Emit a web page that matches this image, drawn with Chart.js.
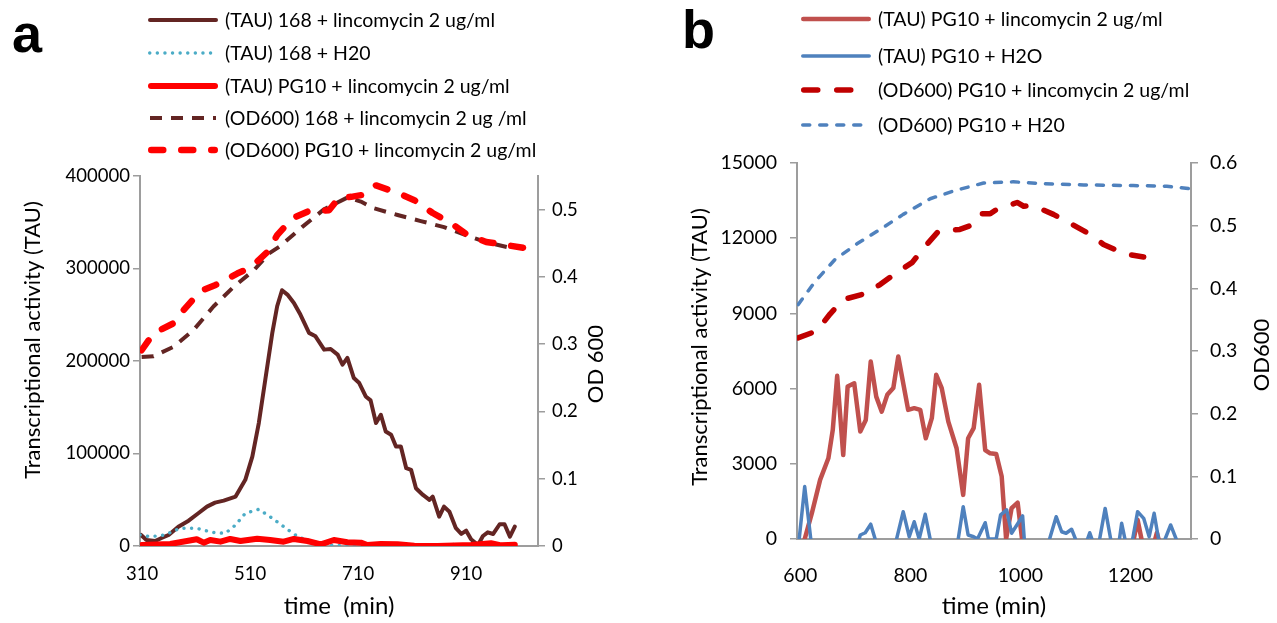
<!DOCTYPE html>
<html>
<head>
<meta charset="utf-8">
<script src="https://cdn.jsdelivr.net/npm/chart.js@4.4.1/dist/chart.umd.min.js"></script>
<style>
  html,body{margin:0;padding:0;background:#fff;}
  #wrap{position:relative;width:1277px;height:623px;overflow:hidden;font-family:Lato,"Open Sans",sans-serif;color:#000;}
  .panel{position:absolute;top:0;height:623px;}
  .letter{position:absolute;font-family:"Liberation Sans",Arial,sans-serif;font-weight:bold;font-size:54px;line-height:54px;}
  .leg{position:absolute;font-size:19.5px;line-height:20px;white-space:nowrap;}
  .leg svg{position:absolute;left:0;top:0;}
  .leg span{position:absolute;top:0;}
</style>
</head>
<body>
<div id="wrap">
  <div class="panel" style="left:0;width:640px;"><canvas id="ca"></canvas></div>
  <div class="panel" style="left:640px;width:637px;"><canvas id="cb"></canvas></div>
  <div class="letter" style="left:12px;top:6px;">a</div>
  <div class="letter" style="left:682px;top:2px;">b</div>
  <div id="legA"></div>
  <div id="legB"></div>
</div>
<script>
// ---------- Panel a data ----------
const aXTicks = [310, 510, 710, 910];

const a168LincTime = [308,318,334,346,359,377,396,414,430,445,461,483,501,514,526,538,551,560,569,579,591,603,619,631,647,659,672,681,690,702,712,724,733,743,752,761,771,780,789,799,808,817,830,842,848,860,869,879,891,901,910,919,932,941,950,960,972,981,991,1000];
const a168LincTau  = [11900,6500,5400,8700,11900,20900,27400,35400,42600,46900,49100,53400,71500,96700,132900,179800,230400,259200,276500,271800,262800,250200,230400,226700,212300,213000,206900,196000,203300,181600,176200,161700,157400,132900,141900,123800,120200,107500,107500,84100,82300,62500,55200,49800,53400,31700,42600,37100,19200,13000,16600,7300,1100,10800,14800,13000,23500,23500,10100,20900];

const a168H2OTime = [306,325,352,380,411,439,464,483,501,526,551,576,600,625,656,690,730,770,814,850,888,910];
const a168H2OTau  = [11900,10100,11900,19200,19200,14800,13700,22700,35400,39700,30000,19200,9400,4700,1100,0,0,0,0,300,1800,0];

const aPG10LincTime = [309,362,411,424,436,455,473,492,523,547,572,591,616,641,665,690,715,727,752,783,814,857,919,956,975,1000];
const aPG10LincTau  = [1000,2200,7300,3600,6500,4700,7600,5400,7900,6500,4700,7600,5400,1800,6500,4000,3600,1100,2200,1800,300,0,1000,2900,700,1400];

const a168LincODTime = [309,331,368,405,442,479,517,545,566,606,646,690,715,739,783,826,869,913,950,987];
const a168LincOD     = [0.281,0.282,0.296,0.321,0.356,0.385,0.410,0.435,0.446,0.474,0.500,0.518,0.512,0.502,0.492,0.483,0.474,0.461,0.451,0.444];

const aPG10LincODTime = [309,331,368,387,418,446,486,511,542,560,588,616,656,675,697,719,743,783,814,848,882,913,947,987,1025];
const aPG10LincOD     = [0.291,0.316,0.331,0.351,0.379,0.388,0.405,0.414,0.437,0.462,0.487,0.497,0.499,0.518,0.519,0.522,0.536,0.525,0.514,0.495,0.480,0.462,0.452,0.447,0.442];

// ---------- Panel b data ----------
const bXTicks = [600, 800, 1000, 1200];

const bLincTime = [608,621,636,651,659,667,678,686,698,709,719,728,738,748,758,769,778,796,807,818,828,839,847,857,869,884,896,905,915,925,936,945,956,966,974,984,995,1003, 1100, 1206,1213,1220, 1234, 1245,1248,1251];
const bLincTau  = [0,1030,2360,3220,4350,6510,3350,6080,6210,4290,4750,7080,5680,5080,5750,6020,7280,5150,5220,5150,4020,4820,6550,6020,4680,3620,1760,4020,4420,6150,3550,3420,3390,2490,0,1230,1450,0, null, 0,760,0, null, 0,250,0];

const bH2OTime = [598,608,619, 660, 707,709,718,728,736, 755, 775,787,798,807,816,827,836, 860, 887,896,905,915,922,936,942,956,964,975,984,1004,1007, 1030, 1053,1065,1075,1083,1093,1100, 1110, 1122,1126,1130, 1137, 1144,1154,1164, 1172, 1180,1184,1190, 1197, 1204,1213,1224,1234,1243,1251, 1257, 1263,1273,1283];
const bH2OTau  = [0,2090,0, null, 0,160,250,590,0, null, 0,1090,90,690,0,985,0, null, 0,1290,160,90,0,650,0,0,960,1160,230,920,0, null, 0,890,290,230,390,0, null, 0,250,0, null, 0,1220,0, null, 0,625,0, null, 0,1090,825,90,1025,0, null, 0,560,0];

const bLincODTime = [596,630,654,678,715,745,775,803,830,851,890,915,930,945,957,994,1006,1023,1060,1090,1127,1151,1190,1224];
const bLincOD     = [0.321,0.332,0.359,0.382,0.391,0.406,0.425,0.441,0.470,0.491,0.494,0.502,0.519,0.519,0.526,0.537,0.531,0.532,0.518,0.504,0.486,0.470,0.455,0.450];

const bH2OODTime = [596,627,663,703,745,787,836,881,933,987,1042,1115,1205,1266,1307];
const bH2OOD     = [0.374,0.411,0.446,0.471,0.494,0.518,0.543,0.556,0.568,0.570,0.567,0.565,0.564,0.563,0.559];

// ---------- helpers ----------
const pts = (xs, ys) => xs.map((x, i) => ({x: x, y: ys[i]}));
const FONT = 'Lato, "Open Sans", sans-serif';
Chart.defaults.font.family = FONT;
Chart.defaults.color = '#000';
const AXIS = '#9d9d9d';

// vertical axis titles, read bottom-to-top as in the reference
const vTitles = {
  id: 'vTitles',
  afterDraw(chart, args, opts) {
    const {ctx} = chart;
    (opts.items || []).forEach(t => {
      ctx.save();
      ctx.translate(t.x, t.y);
      ctx.rotate(-Math.PI / 2);
      ctx.font = t.size + 'px ' + FONT;
      ctx.fillStyle = '#000';
      ctx.textAlign = 'center';
      ctx.textBaseline = 'middle';
      ctx.fillText(t.text, 0, 0);
      ctx.restore();
    });
  }
};

function yScale(pos, min, max, step, width, pad, fmt, fontSize) {
  return {
    type: 'linear', position: pos, min: min, max: max,
    afterFit: s => { s.width = width; },
    grid: {display: true, drawOnChartArea: false, drawTicks: true, tickLength: 7, color: AXIS, lineWidth: 1.5},
    border: {display: true, color: AXIS, width: 2},
    ticks: {stepSize: step, includeBounds: false, padding: pad, font: {size: fontSize}, callback: fmt},
    title: {display: false}
  };
}
function xScale(min, max, ticks, height, pad, fontSize, titleText, titleSize, titlePad) {
  return {
    type: 'linear', position: 'bottom', min: min, max: max,
    afterFit: s => { s.height = height; },
    afterBuildTicks: s => { s.ticks = ticks.map(v => ({value: v})); },
    grid: {display: false, drawTicks: false},
    border: {display: true, color: AXIS, width: 2},
    ticks: {padding: pad, font: {size: fontSize}, autoSkip: false, maxRotation: 0, callback: v => String(v)},
    title: {display: true, text: titleText, font: {size: titleSize}, padding: {top: 0, bottom: titlePad}}
  };
}
const fmtInt = v => String(v);
const fmtDec = v => String(Math.round(v * 10) / 10);

function ds(label, xs, ys, axis, color, width, dash, cap, order) {
  return {label: label, data: pts(xs, ys), yAxisID: axis, borderColor: color, backgroundColor: color,
    borderWidth: width, borderDash: dash, borderCapStyle: cap, borderJoinStyle: 'round',
    pointRadius: 0, pointHoverRadius: 0, tension: 0, fill: false, clip: 0, spanGaps: false, order: order};
}

// ---------- Chart a ----------
const chartA = new Chart(document.getElementById('ca'), {
  type: 'line',
  data: {datasets: [
    ds('(TAU) 168 + lincomycin 2 ug/ml', a168LincTime, a168LincTau, 'y', '#632523', 4, [], 'round', 5),
    ds('(TAU) 168 + H20', a168H2OTime, a168H2OTau, 'y', '#4bacc6', 3.4, [0.1, 7.5], 'round', 4),
    ds('(TAU) PG10 + lincomycin 2 ug/ml', aPG10LincTime, aPG10LincTau, 'y', '#ff0000', 6, [], 'round', 3),
    ds('(OD600) 168 + lincomycin 2 ug /ml', a168LincODTime, a168LincOD, 'y2', '#632523', 4, [12, 9], 'butt', 2),
    ds('(OD600) PG10 + lincomycin 2 ug/ml', aPG10LincODTime, aPG10LincOD, 'y2', '#ff0000', 6.5, [12, 18], 'round', 1)
  ]},
  options: {
    responsive: true, maintainAspectRatio: false, animation: false, devicePixelRatio: 1,
    layout: {padding: {top: 176, left: 0, right: 0, bottom: 0}},
    plugins: {legend: {display: false}, tooltip: {enabled: false},
      vTitles: {items: [
        {text: 'Transcriptional activity (TAU)', x: 33, y: 340, size: 22},
        {text: 'OD 600', x: 596, y: 364, size: 22}
      ]}},
    scales: {
      x: xScale(306, 1043, aXTicks, 77, 17, 18.5, 'time  (min)', 24, 2),
      y: yScale('left', 0, 400000, 100000, 140, 3, fmtInt, 18.5),
      y2: yScale('right', 0, 0.55, 0.1, 102, 7, fmtDec, 18.5)
    }
  },
  plugins: [vTitles]
});

// ---------- Chart b ----------
const chartB = new Chart(document.getElementById('cb'), {
  type: 'line',
  data: {datasets: [
    ds('(TAU) PG10 + lincomycin 2 ug/ml', bLincTime, bLincTau, 'y', '#c0504d', 4.5, [], 'round', 4),
    ds('(TAU) PG10 + H2O', bH2OTime, bH2OTau, 'y', '#4f81bd', 3.5, [], 'round', 3),
    ds('(OD600) PG10 + lincomycin 2 ug/ml', bLincODTime, bLincOD, 'y2', '#c00000', 5.5, [14, 19], 'round', 2),
    ds('(OD600) PG10 + H20', bH2OODTime, bH2OOD, 'y2', '#4f81bd', 3.5, [7, 10], 'round', 1)
  ]},
  options: {
    responsive: true, maintainAspectRatio: false, animation: false, devicePixelRatio: 1,
    layout: {padding: {top: 163, left: 0, right: 0, bottom: 0}},
    plugins: {legend: {display: false}, tooltip: {enabled: false},
      vTitles: {items: [
        {text: 'Transcriptional activity (TAU)', x: 60, y: 347, size: 22},
        {text: 'OD600', x: 622, y: 355, size: 22}
      ]}},
    scales: {
      x: xScale(594, 1310, bXTicks, 84, 25, 19.5, 'time (min)', 24, 2),
      y: yScale('left', 0, 15000, 3000, 157, 13, fmtInt, 19.5),
      y2: yScale('right', 0, 0.6, 0.1, 86, 12, fmtDec, 19.5)
    }
  },
  plugins: [vTitles]
});

// ---------- HTML legends built from the chart datasets ----------
function buildLegend(chart, host, left, rows) {
  chart.data.datasets.forEach((d, i) => {
    const item = document.createElement('div');
    item.className = 'leg';
    item.style.left = left + 'px';
    item.style.top = (rows[i] - 10) + 'px';
    const dash = (d.borderDash && d.borderDash.length) ? d.borderDash.join(' ') : 'none';
    item.innerHTML = '<svg width="74" height="20"><line x1="' + (d.borderWidth / 2 + 1) + '" y1="10" x2="' + (71 - d.borderWidth / 2) +
      '" y2="10" stroke="' + d.borderColor + '" stroke-width="' + d.borderWidth + '" stroke-dasharray="' + dash +
      '" stroke-linecap="' + d.borderCapStyle + '"/></svg><span style="left:78px">' + d.label + '</span>';
    host.appendChild(item);
  });
}
buildLegend(chartA, document.getElementById('legA'), 147, [20, 53, 86, 118, 150]);
buildLegend(chartB, document.getElementById('legB'), 800, [19, 56, 90, 125]);
</script>
</body>
</html>
